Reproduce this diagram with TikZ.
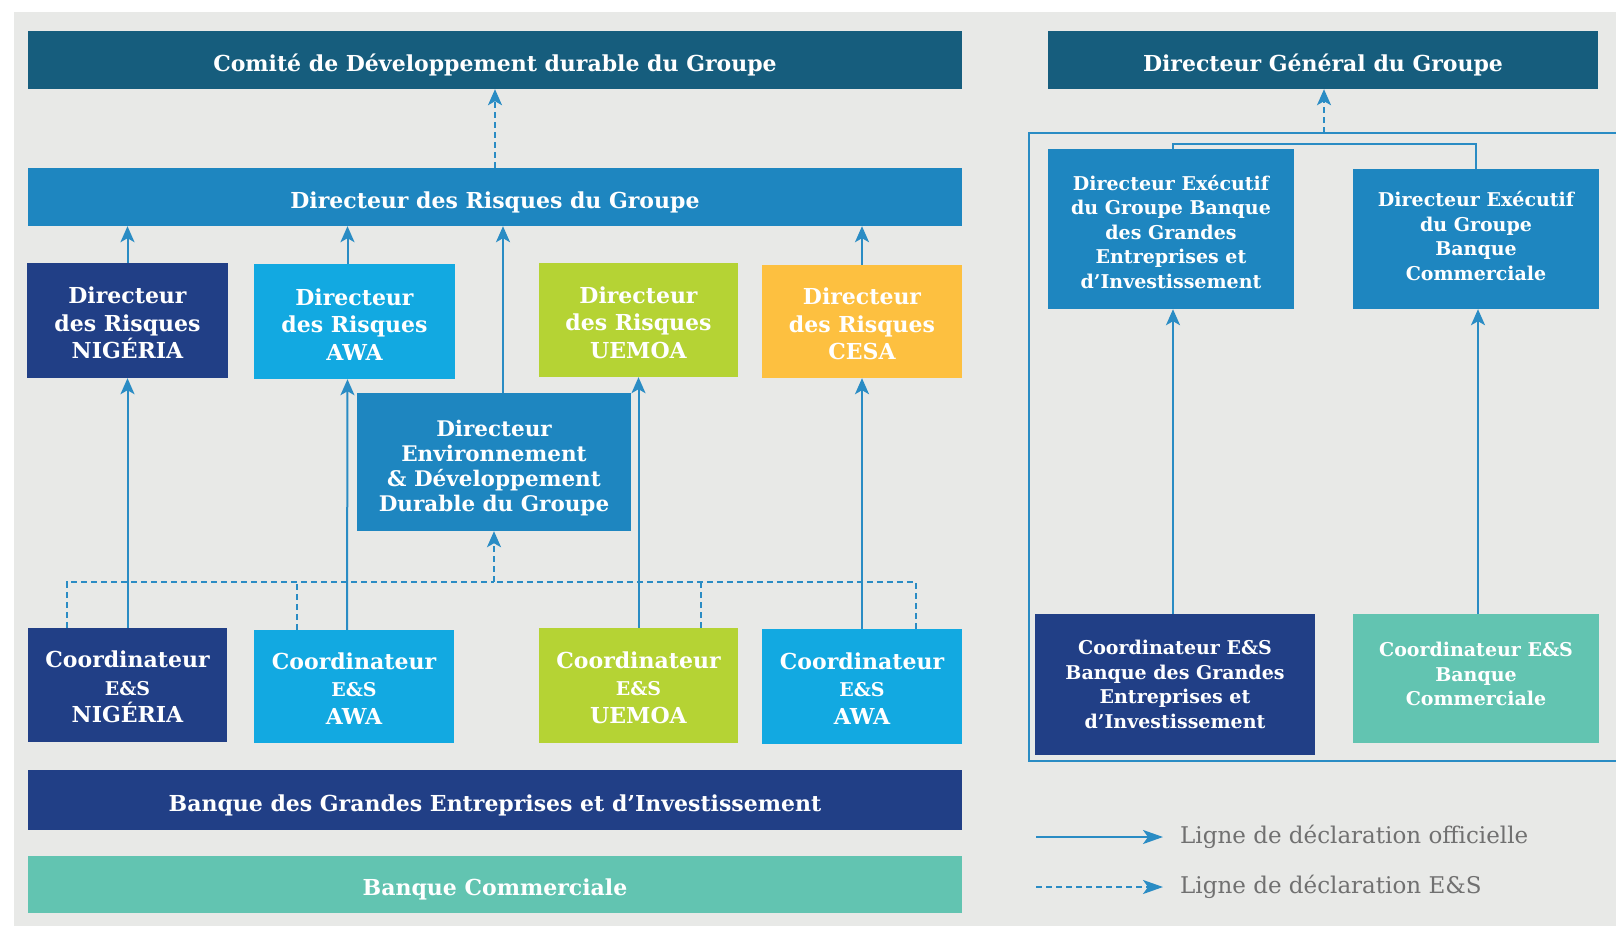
\documentclass[tikz,border=0pt]{standalone}
\usepackage{fontspec}
\setmainfont{DejaVu Serif}
\usetikzlibrary{arrows.meta}
\definecolor{fond}{RGB}{232,233,231}
\definecolor{bleufonce}{RGB}{22,93,125}
\definecolor{bleumoyen}{RGB}{30,134,192}
\definecolor{marine}{RGB}{33,63,134}
\definecolor{ciel}{RGB}{18,169,225}
\definecolor{vert}{RGB}{181,211,52}
\definecolor{jaune}{RGB}{253,192,64}
\definecolor{turquoise}{RGB}{98,196,177}
\definecolor{trait}{RGB}{42,140,196}
\definecolor{gristexte}{RGB}{112,112,112}

\begin{document}
\begin{tikzpicture}[x=1pt,y=-1pt,
    boite/.style={inner sep=0pt,align=center,text=white,font=\bfseries\fontsize{22}{27.5}\selectfont},
    bande/.style={boite,text height=22pt,text depth=0pt},
    petit/.style={boite,font=\bfseries\fontsize{19}{24.5}\selectfont},
    fleche/.style={draw=trait,line width=2pt,-{Stealth[length=16pt,width=14pt,inset=4pt]}},
    tiret/.style={draw=trait,line width=2pt,dash pattern=on 6pt off 4pt},
    legende/.style={anchor=west,inner sep=0pt,text=gristexte,font=\fontsize{23}{26}\selectfont}]
\useasboundingbox (0,0) rectangle (1616,926);
\fill[fond] (14,12) rectangle (1616,926);

% gauche
\node[bande,fill=bleufonce,minimum width=934pt,minimum height=58pt] (comite) at (495,60) {Comité de Développement durable du Groupe};
\node[bande,fill=bleumoyen,minimum width=934pt,minimum height=58pt] (rgroupe) at (495,197) {Directeur des Risques du Groupe};
\node[boite,fill=marine,minimum width=201pt,minimum height=115pt,text height=77pt] (rnig) at (127.5,320.5) {Directeur\\des Risques\\NIGÉRIA};
\node[boite,fill=ciel,minimum width=201pt,minimum height=115pt,text height=77pt] (rawa) at (354.5,321.5) {Directeur\\des Risques\\AWA};
\node[boite,fill=vert,minimum width=199pt,minimum height=114pt,text height=77pt] (ruemoa) at (638.5,320) {Directeur\\des Risques\\UEMOA};
\node[boite,fill=jaune,minimum width=200pt,minimum height=113pt,text height=77pt] (rcesa) at (862,321.5) {Directeur\\des Risques\\CESA};
\node[boite,fill=bleumoyen,minimum width=274pt,minimum height=138pt,font=\bfseries\fontsize{21.5}{25}\selectfont,text height=99pt,text depth=0pt] (env) at (494,462) {Directeur\\Environnement\\\& Développement\\Durable du Groupe};
\node[boite,fill=marine,minimum width=199pt,minimum height=114pt,text height=75.7pt] (cnig) at (127.5,685) {Coordinateur\\{\fontsize{19}{20}\selectfont E\&S}\\NIGÉRIA};
\node[boite,fill=ciel,minimum width=200pt,minimum height=113pt,text height=75.7pt] (cawa) at (354,686.5) {Coordinateur\\{\fontsize{19}{20}\selectfont E\&S}\\AWA};
\node[boite,fill=vert,minimum width=199pt,minimum height=115pt,text height=75.7pt] (cuemoa) at (638.5,685.5) {Coordinateur\\{\fontsize{19}{20}\selectfont E\&S}\\UEMOA};
\node[boite,fill=ciel,minimum width=200pt,minimum height=115pt,text height=75.7pt] (cawab) at (862,686.5) {Coordinateur\\{\fontsize{19}{20}\selectfont E\&S}\\AWA};
\node[bande,fill=marine,minimum width=934pt,minimum height=60pt] (bgei) at (495,800) {Banque des Grandes Entreprises et d'Investissement};
\node[bande,fill=turquoise,minimum width=934pt,minimum height=57pt] (bc) at (495,884.5) {Banque Commerciale};

\draw[fleche,dash pattern=on 6pt off 4pt] (rgroupe.north) -- (comite.south);
\draw[fleche] (rnig.north) -- (rnig.north |- rgroupe.south);
\draw[fleche] ([xshift=-7pt]rawa.north) -- ([xshift=-7pt]rawa.north |- rgroupe.south);
\draw[fleche] ([xshift=9pt]env.north) -- ([xshift=9pt]env.north |- rgroupe.south);
\draw[fleche] (rcesa.north) -- (rcesa.north |- rgroupe.south);
\draw[fleche] (cnig.north) -- (rnig.south);
\draw[fleche] ([xshift=-7pt]cawa.north) -- ([xshift=-7pt]rawa.south);
\draw[fleche] (cuemoa.north) -- (ruemoa.south);
\draw[fleche] (cawab.north) -- (rcesa.south);

\coordinate (bus) at (494,582);
\draw[tiret] ([xshift=-60.5pt]cnig.north) |- (bus);
\draw[tiret] ([xshift=54pt]cawab.north) |- (bus);
\draw[tiret] ([xshift=-57pt]cawa.north) -- ([xshift=-57pt]cawa.north |- bus);
\draw[tiret] ([xshift=62.5pt]cuemoa.north) -- ([xshift=62.5pt]cuemoa.north |- bus);
\draw[fleche,dash pattern=on 6pt off 4pt] (bus) -- (env.south);

% droite
\node[bande,fill=bleufonce,minimum width=550pt,minimum height=58pt] (dg) at (1323,60) {Directeur Général du Groupe};
\draw[trait,line width=2pt] (1616,133) -- (1029,133) -- (1029,761) -- (1616,761);
\coordinate (ftop) at (1324,133);
\draw[fleche,dash pattern=on 6pt off 4pt] (ftop) -- (ftop |- dg.south);
\node[petit,fill=bleumoyen,minimum width=246.5pt,minimum height=160pt,text height=118.7pt] (execbgei) at (1171,229) {Directeur Exécutif\\du Groupe Banque\\des Grandes\\Entreprises et\\d'Investissement};
\node[petit,fill=bleumoyen,minimum width=246pt,minimum height=140pt,text depth=6pt] (execbc) at (1476,239) {Directeur Exécutif\\du Groupe\\Banque\\Commerciale};
\draw[trait,line width=2pt] ([xshift=2pt]execbgei.north) -- ++(0,-5) -| (execbc.north);
\node[petit,fill=marine,minimum width=280pt,minimum height=141pt] (cbgei) at (1175,684.5) {Coordinateur E\&S\\Banque des Grandes\\Entreprises et\\d'Investissement};
\node[petit,fill=turquoise,minimum width=246pt,minimum height=129pt,text depth=9pt] (cbc) at (1476,678.5) {Coordinateur E\&S\\Banque\\Commerciale};
\draw[fleche] ([xshift=-2pt]cbgei.north) -- ([xshift=2pt]execbgei.south);
\draw[fleche] ([xshift=2pt]cbc.north) -- ([xshift=2pt]execbc.south);

% legende
\coordinate (l1) at (1036,837);
\coordinate (l2) at (1036,887);
\node[legende] (t1) at (1180,837) {Ligne de déclaration officielle};
\node[legende] (t2) at (1180,887) {Ligne de déclaration E\&S};
\draw[draw=trait,line width=2pt,-{Stealth[length=20pt,width=14pt,inset=5pt]}] (l1) -- ([xshift=-17pt]t1.west);
\draw[draw=trait,line width=2pt,dash pattern=on 6pt off 4pt,-{Stealth[length=20pt,width=14pt,inset=5pt]}] (l2) -- ([xshift=-17pt]t2.west);
\end{tikzpicture}
\end{document}
